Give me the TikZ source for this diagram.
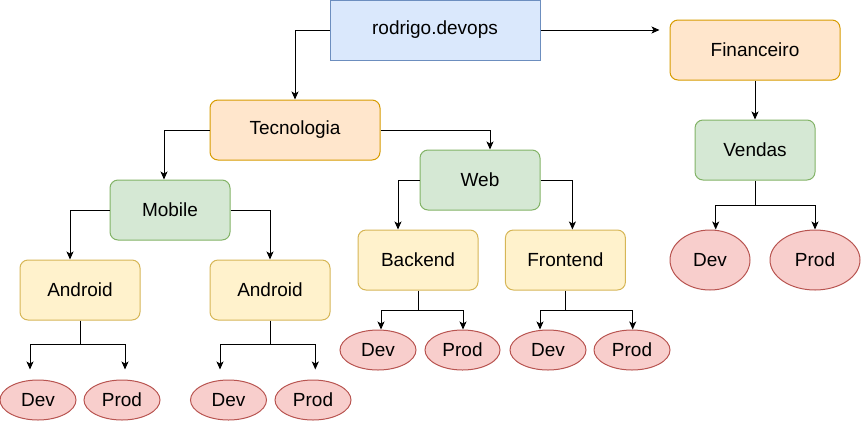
\documentclass[tikz,border=0pt]{standalone}
\usepackage{fontspec}
\setmainfont{Liberation Sans}
\usetikzlibrary{arrows.meta,shapes.geometric}
\definecolor{bfill}{HTML}{DAE8FC}\definecolor{bdraw}{HTML}{6C8EBF}
\definecolor{ofill}{HTML}{FFE6CC}\definecolor{odraw}{HTML}{D79B00}
\definecolor{gfill}{HTML}{D5E8D4}\definecolor{gdraw}{HTML}{82B366}
\definecolor{yfill}{HTML}{FFF2CC}\definecolor{ydraw}{HTML}{D6B656}
\definecolor{rfill}{HTML}{F8CECC}\definecolor{rdraw}{HTML}{B85450}
\begin{document}
\begin{tikzpicture}[x=1pt,y=-1pt,
  every node/.style={font=\fontsize{19}{22}\selectfont, inner sep=0pt, line width=1pt},
  box/.style={draw, rounded corners=8pt, minimum width=120pt, minimum height=60pt},
  wide/.style={box, minimum width=170pt},
  bluebox/.style={draw=bdraw, fill=bfill, minimum width=210pt, minimum height=60pt},
  orangebox/.style={draw=odraw, fill=ofill},
  greenbox/.style={draw=gdraw, fill=gfill},
  yellowbox/.style={draw=ydraw, fill=yfill},
  env/.style={ellipse, draw=rdraw, fill=rfill, minimum width=76pt, minimum height=40pt},
  arr/.style={line width=1pt, -{Stealth[length=8pt,width=7pt,inset=2pt]}},
  ln/.style={line width=1pt}]
\useasboundingbox (0,0) rectangle (861,421);

\node[bluebox] (root) at (435,30) {rodrigo.devops};
\node[wide, orangebox] (tec) at (295,130) {Tecnologia};
\node[wide, orangebox] (fin) at (755,50) {Financeiro};
\node[box, greenbox] (ven) at (755,150) {Vendas};
\node[box, greenbox] (mob) at (170,210) {Mobile};
\node[box, greenbox] (web) at (480,180) {Web};
\node[box, yellowbox] (back) at (418,260) {Backend};
\node[box, yellowbox] (front) at (565.4,260) {Frontend};
\node[box, yellowbox] (and1) at (80,290) {Android};
\node[box, yellowbox] (and2) at (270,290) {Android};

\node[env, minimum width=80pt, minimum height=60pt] (vd) at (710,260) {Dev};
\node[env, minimum width=90pt, minimum height=60pt] (vp) at (815,260) {Prod};
\node[env] (bd) at (378,350) {Dev};
\node[env, minimum width=75pt] (bp) at (462.5,350) {Prod};
\node[env] (fd) at (548,350) {Dev};
\node[env] (fp) at (632,350) {Prod};
\node[env] (a1d) at (38,400) {Dev};
\node[env] (a1p) at (122,400) {Prod};
\node[env] (a2d) at (228.5,400) {Dev};
\node[env] (a2p) at (313,400) {Prod};

% top level
\draw[arr] (root.west) -| (tec.north);
\draw[arr, shorten >=10pt] (root.east) -- (root.east -| fin.west);
\draw[arr] (fin.south) -- (ven.north);
\draw[arr] (tec.west) -| ([xshift=-6pt]mob.north);
\draw[arr] (tec.east) -| ([xshift=10pt]web.north);
\draw[arr] (web.west) -| ([xshift=-20pt]back.north);
\draw[arr] (web.east) -| ([xshift=7pt]front.north);
\draw[arr] (mob.west) -| ([xshift=-10pt]and1.north);
\draw[arr] (mob.east) -| (and2.north);

% forks
\draw[ln] (ven.south) -- ++(0,25) coordinate (vm);
\draw[arr] (vm) -| ([xshift=5.7pt]vd.north);
\draw[arr] (vm) -| (vp.north);

\draw[ln] (back.south) -- ++(0,20) coordinate (bm);
\draw[arr] (bm) -| ([xshift=3pt]bd.north);
\draw[arr] (bm) -| ([xshift=0.5pt]bp.north);

\draw[ln] (front.south) -- ++(0,20) coordinate (fm);
\draw[arr] (fm) -| ([xshift=-8pt]fd.north);
\draw[arr] (fm) -| ([xshift=0.7pt]fp.north);

\draw[ln] (and1.south) -- ++(0,24) coordinate (a1m);
\draw[arr] (a1m) -| ([xshift=-8pt,yshift=10pt]a1d.north);
\draw[arr] (a1m) -| ([xshift=3pt,yshift=10pt]a1p.north);

\draw[ln] (and2.south) -- ++(0,24) coordinate (a2m);
\draw[arr] (a2m) -| ([xshift=-8.5pt,yshift=10pt]a2d.north);
\draw[arr] (a2m) -| ([xshift=2.3pt,yshift=10pt]a2p.north);
\end{tikzpicture}
\end{document}
